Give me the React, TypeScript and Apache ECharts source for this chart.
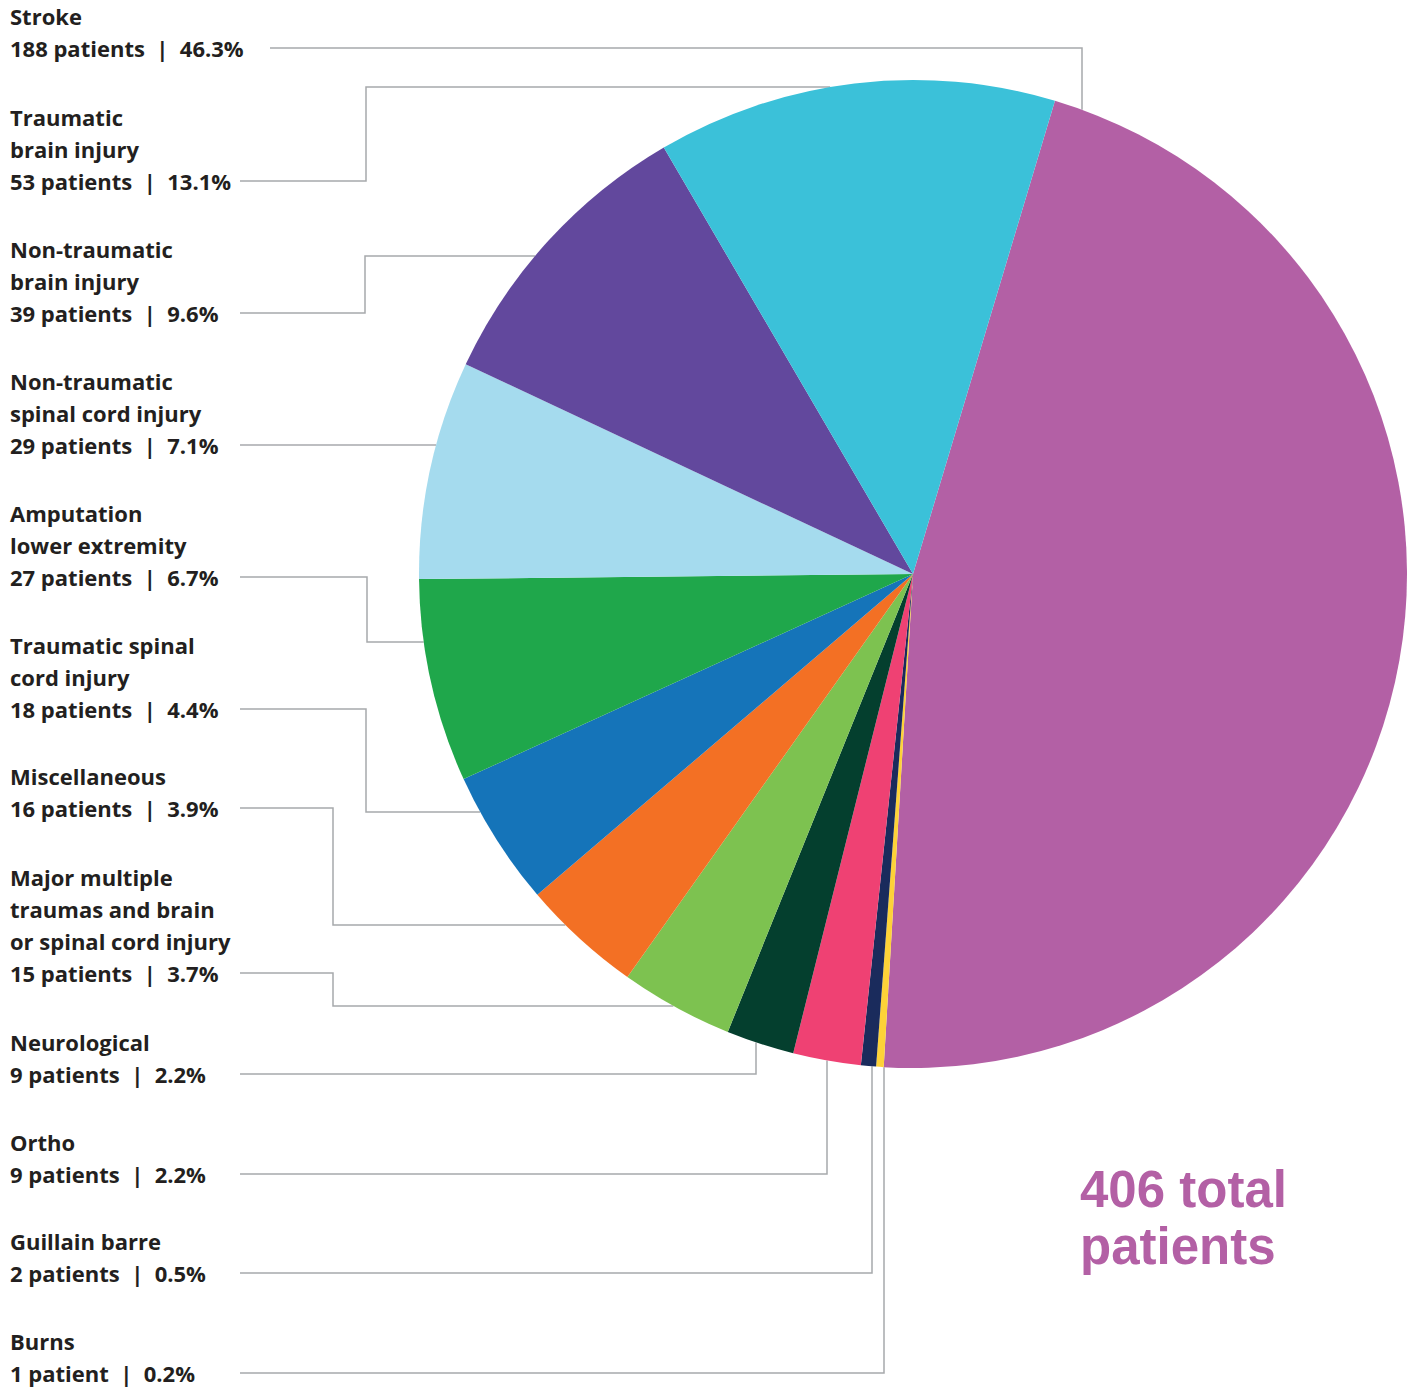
import React, { useEffect, useRef } from "react";
import * as echarts from "echarts";

// ---- data (clockwise from the top, Stroke first) ----
const categories = [
  "Stroke",
  "Burns",
  "Guillain barre",
  "Ortho",
  "Neurological",
  "Major multiple\ntraumas and brain\nor spinal cord injury",
  "Miscellaneous",
  "Traumatic spinal\ncord injury",
  "Amputation\nlower extremity",
  "Non-traumatic\nspinal cord injury",
  "Non-traumatic\nbrain injury",
  "Traumatic\nbrain injury",
];
const patients = [188, 1, 2, 9, 9, 15, 16, 18, 27, 29, 39, 53];
const sliceColors = [
  "#b360a5",
  "#fdd238",
  "#1a2b5c",
  "#ef4173",
  "#043f2e",
  "#7dc250",
  "#f37024",
  "#1574b9",
  "#1fa74b",
  "#a5dbee",
  "#62489d",
  "#3bc1d9",
];

// ---- layout of the label column / leader lines (pixels) ----
const CX = 913;
const CY = 574;
const R = 494;
const LABEL_X = 10;
const LINE_H = 32;
const FONT = "Open Sans";
// y: centre of the last text line; x0: leader start; v: vertical drop at vx; h: elbow at ex then horizontal at ty
const leaders: any[] = [
  { y: 48, x0: 270, kind: "v", vx: 1082, side: -1 },
  { y: 1373, x0: 240, kind: "v", vx: 884, side: 1 },
  { y: 1273, x0: 240, kind: "v", vx: 872, side: 1 },
  { y: 1174, x0: 240, kind: "v", vx: 827, side: 1 },
  { y: 1074, x0: 240, kind: "v", vx: 756, side: 1 },
  { y: 973, x0: 240, kind: "h", ex: 333, ty: 1006 },
  { y: 808, x0: 240, kind: "h", ex: 333, ty: 925 },
  { y: 709, x0: 240, kind: "h", ex: 366, ty: 812 },
  { y: 577, x0: 240, kind: "h", ex: 367, ty: 642 },
  { y: 445, x0: 240, kind: "h" },
  { y: 313, x0: 240, kind: "h", ex: 365, ty: 256 },
  { y: 181, x0: 240, kind: "h", ex: 366, ty: 87 },
];

const edgeX = (y: number) => CX - Math.sqrt(Math.max(0, R * R - (y - CY) * (y - CY)));
const edgeY = (x: number, side: number) =>
  CY + side * Math.sqrt(Math.max(0, R * R - (x - CX) * (x - CX)));

function leaderPoints(i: number): number[][] {
  const L = leaders[i];
  if (L.kind === "v") {
    return [
      [L.x0, L.y],
      [L.vx, L.y],
      [L.vx, edgeY(L.vx, L.side)],
    ];
  }
  if (L.ex == null) {
    return [
      [L.x0, L.y],
      [edgeX(L.y), L.y],
    ];
  }
  return [
    [L.x0, L.y],
    [L.ex, L.y],
    [L.ex, L.ty],
    [edgeX(L.ty), L.ty],
  ];
}

export default function App() {
  const ref = useRef<HTMLDivElement>(null);

  useEffect(() => {
    if (!ref.current) return;
    const chart = echarts.init(ref.current, undefined, { renderer: "svg" });
    const total = patients.reduce((a, b) => a + b, 0);
    const pie = categories.map((name, i) => ({
      name,
      value: patients[i],
      itemStyle: { color: sliceColors[i] },
    }));

    chart.setOption({
      animation: false,
      backgroundColor: "#ffffff",
      title: {
        text: `${total} total\npatients`,
        left: 1075,
        top: 1156,
        textStyle: {
          fontFamily: "Liberation Sans",
          fontWeight: "bold",
          fontSize: 51,
          lineHeight: 57,
          color: "#b360a5",
        },
      },
      series: [
        {
          type: "pie",
          center: [CX, CY],
          radius: R,
          startAngle: 73.3,
          clockwise: true,
          avoidLabelOverlap: false,
          data: pie,
          itemStyle: { borderWidth: 0 },
          emphasis: { disabled: true },
          label: {
            show: true,
            position: "outside",
            fontFamily: FONT,
            fontWeight: "bold",
            fontSize: 22,
            lineHeight: LINE_H,
            color: "#231f20",
            formatter: (p: any) => {
              const v = p.value as number;
              const pct = ((v / total) * 100).toFixed(1);
              return `${p.name}\n${v} patient${v === 1 ? "" : "s"}  |  ${pct}%`;
            },
          },
          labelLine: {
            show: true,
            length: 10,
            length2: 10,
            smooth: false,
            lineStyle: { color: "#a7a9ac", width: 1.5 },
          },
          labelLayout: (params: any) => {
            const i = params.dataIndex;
            return {
              x: LABEL_X,
              y: leaders[i].y + LINE_H / 2,
              align: "left",
              verticalAlign: "bottom",
              labelLinePoints: leaderPoints(i),
            };
          },
        },
      ],
    });
    return () => chart.dispose();
  }, []);

  return (
    <div
      ref={ref}
      style={{ position: "fixed", left: 0, top: 0, width: 1419, height: 1387 }}
    />
  );
}
